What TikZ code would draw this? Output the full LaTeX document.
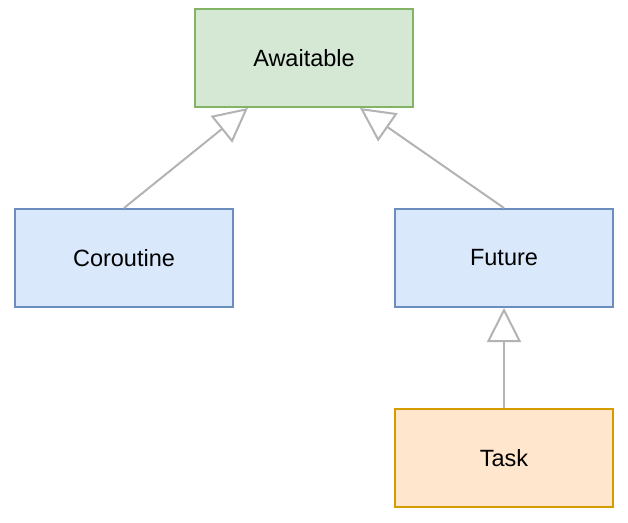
\documentclass[tikz,border=0pt]{standalone}
\usepackage{fontspec}
\setmainfont{Liberation Sans}
\usetikzlibrary{arrows.meta,calc}
\definecolor{gfill}{HTML}{D5E8D4}
\definecolor{gline}{HTML}{82B366}
\definecolor{bfill}{HTML}{DAE8FC}
\definecolor{bline}{HTML}{6C8EBF}
\definecolor{ofill}{HTML}{FFE6CC}
\definecolor{oline}{HTML}{D79B00}
\definecolor{conn}{HTML}{B3B3B3}
\begin{document}
\begin{tikzpicture}[x=1pt,y=-1pt,
  box/.style={draw, line width=2pt, minimum width=218pt, minimum height=98pt, inner sep=0pt,
    font=\fontsize{23.5}{28}\selectfont},
  green/.style={box, fill=gfill, draw=gline},
  blue/.style={box, fill=bfill, draw=bline},
  orange/.style={box, fill=ofill, draw=oline},
  inherit/.style={draw=conn, line width=2pt,
    -{Triangle[open, length=34pt, width=34pt, fill=white]}}]
\useasboundingbox (0,0) rectangle (628,522);
\node[green] (aw) at (304,58) {Awaitable};
\node[blue] (co) at (124,258) {Coroutine};
\node[blue] (fu) at (504,258) {Future};
\node[orange] (ta) at (504,458) {Task};
\coordinate (awl) at ($(aw.south west)!0.245!(aw.south east)$);
\coordinate (awr) at ($(aw.south west)!0.7545!(aw.south east)$);
\draw[inherit] (co.north) -- (awl);
\draw[inherit] (fu.north) -- (awr);
\draw[inherit] (ta.north) -- (fu.south);
\end{tikzpicture}
\end{document}
